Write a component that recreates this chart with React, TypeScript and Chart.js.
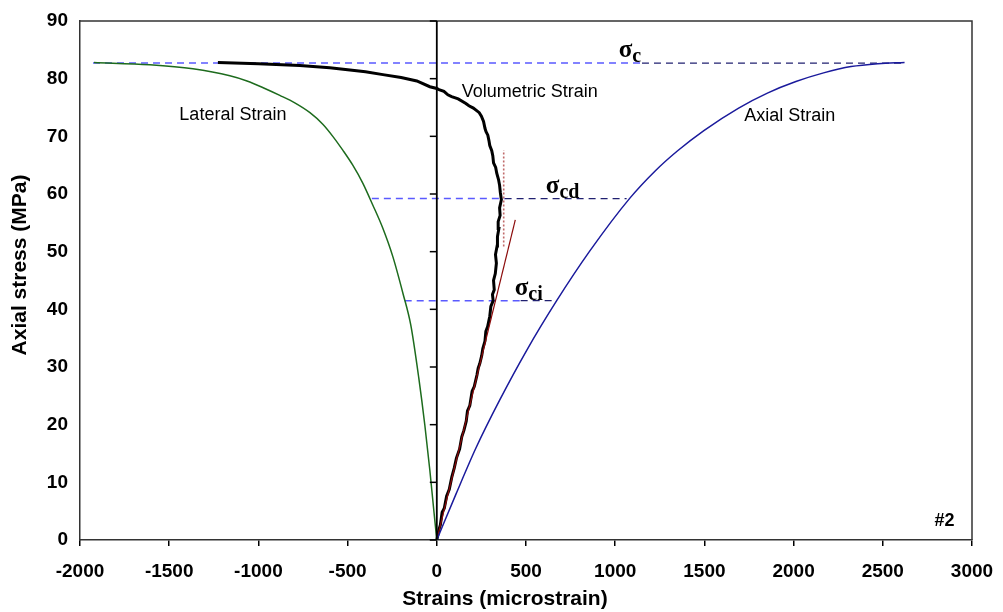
import React, { useEffect, useRef } from "react";
import { Chart, registerables } from "chart.js";

Chart.register(...registerables);

// ---- Axis ticks ----
const xTickValues = [-2000, -1500, -1000, -500, 0, 500, 1000, 1500, 2000, 2500, 3000];
const yTickValues = [0, 10, 20, 30, 40, 50, 60, 70, 80, 90];

// ---- Lateral strain (green) ----
const lateralX = [-1922, -1608, -1367, -1160, -1064, -964, -880, -796, -711, -639, -583, -527, -471, -415, -359, -303, -246, -190, -146, -101, -67, -39, -17, 0];
const lateralY = [82.8, 82.4, 81.7, 80.5, 79.6, 78.3, 77.1, 75.8, 74.1, 72.1, 70.0, 67.6, 65.0, 61.9, 58.1, 54.1, 49.1, 42.8, 37.3, 28.1, 19.9, 12.1, 5.2, 0];

// ---- Axial strain (navy) ----
const axialX = [0, 108, 220, 353, 504, 672, 855, 1080, 1224, 1350, 1497, 1692, 1853, 2013, 2168, 2322, 2472, 2622];
const axialY = [0, 8.0, 16.0, 24.3, 32.9, 41.5, 50.0, 59.2, 64.0, 67.5, 71.0, 74.9, 77.5, 79.5, 81.0, 82.1, 82.6, 82.8];

// ---- Volumetric strain (black, jagged) ----
const volX = [0, 12, 20, 30, 42, 55, 70, 84, 98, 110, 128, 140, 152, 165, 172, 185, 198, 210, 225, 232, 241, 252, 258, 270, 275, 285, 297, 303, 316, 312, 322, 318, 328, 334, 329, 338, 340, 348, 344, 355, 352, 362, 356, 352, 346, 336, 330, 318, 314, 308, 297, 292, 286, 276, 270, 262, 250, 238, 205, 180, 163, 120, 83, 62, 40, 12, 0, -39, -112, -200, -302, -400, -487, -600, -768, -1000, -1227];
const volY = [0, 1.8, 2.6, 4.8, 5.5, 7.6, 8.8, 10.9, 12.5, 14.2, 15.8, 17.9, 19.0, 20.6, 22.4, 23.3, 25.8, 26.6, 28.6, 29.8, 30.6, 32.0, 33.2, 34.5, 36.2, 37.0, 38.8, 40.5, 41.5, 42.6, 43.4, 45.0, 46.2, 48.0, 49.5, 51.0, 52.6, 54.0, 55.2, 56.3, 57.6, 59.0, 60.3, 61.5, 62.5, 63.6, 64.6, 65.4, 66.6, 67.5, 68.4, 69.3, 70.2, 70.8, 71.4, 72.6, 73.5, 74.1, 74.9, 75.3, 75.7, 76.5, 76.9, 77.2, 77.8, 78.1, 78.3, 78.6, 79.6, 80.2, 80.7, 81.2, 81.5, 81.9, 82.3, 82.6, 82.8];

// ---- Linear fit (red) and its vertical guide ----
const tangentX = [0, 440];
const tangentY = [0, 55.5];
const guideX = [375, 375];
const guideY = [50.9, 67.6];

// ---- Stress thresholds ----
const sigmaC = 82.7;
const sigmaCd = 59.2;
const sigmaCi = 41.5;
const sigmaCLight = [-1927, 1150];
const sigmaCDark = [1150, 2622];
const sigmaCdLight = [-364, 380];
const sigmaCdDark = [380, 1064];
const sigmaCiLight = [-180, 470];
const sigmaCiDark = [470, 661];

// ---- Text labels (data coordinates) ----
const curveLabels = ["Lateral Strain", "Volumetric Strain", "Axial Strain"];
const curveLabelX = [-1143, 521, 1978];
const curveLabelY = [73.7, 77.7, 73.5];
const sigmaSubs = ["c", "cd", "ci"];
const sigmaLabelX = [1020, 611, 437];
const sigmaLabelY = [83.8, 60.2, 42.5];
const specimenLabel = "#2";
const specimenX = 2846;
const specimenY = 3.3;

const xTitle = "Strains (microstrain)";
const yTitle = "Axial stress (MPa)";

const SANS = '"Liberation Sans", Arial, sans-serif';
const SERIF = '"Liberation Serif", "Times New Roman", serif';

const pts = (xs: number[], ys: number[]) => xs.map((x, i) => ({ x, y: ys[i] }));
const hline = (xs: number[], y: number) => xs.map((x) => ({ x, y }));

export default function App() {
  const ref = useRef<HTMLCanvasElement>(null);

  useEffect(() => {
    document.body.style.margin = "0";
    const canvas = ref.current;
    if (!canvas) return;

    const lightDash = "#5a5aff";
    const darkDash = "#202070";

    const decor = {
      id: "decor",
      afterDatasetsDraw(chart: any) {
        const { ctx, chartArea, scales } = chart;
        const xs = scales.x;
        const ys = scales.y;
        ctx.save();
        // top & right box edges
        ctx.strokeStyle = "#333";
        ctx.lineWidth = 1.5;
        ctx.beginPath();
        ctx.moveTo(chartArea.left, chartArea.top);
        ctx.lineTo(chartArea.right, chartArea.top);
        ctx.lineTo(chartArea.right, chartArea.bottom);
        ctx.stroke();
        // vertical axis at x = 0 with tick marks
        const x0 = xs.getPixelForValue(0);
        ctx.strokeStyle = "#000";
        ctx.lineWidth = 1.8;
        ctx.beginPath();
        ctx.moveTo(x0, chartArea.top);
        ctx.lineTo(x0, chartArea.bottom);
        ctx.stroke();
        ctx.lineWidth = 1.5;
        yTickValues.forEach((v) => {
          const py = ys.getPixelForValue(v);
          ctx.beginPath();
          ctx.moveTo(x0 - 7, py);
          ctx.lineTo(x0, py);
          ctx.stroke();
        });

        // curve labels
        ctx.fillStyle = "#000";
        ctx.textAlign = "center";
        ctx.textBaseline = "middle";
        ctx.font = `18px ${SANS}`;
        curveLabels.forEach((t, i) => {
          ctx.fillText(t, xs.getPixelForValue(curveLabelX[i]), ys.getPixelForValue(curveLabelY[i]));
        });
        ctx.font = `bold 18px ${SANS}`;
        ctx.fillText(specimenLabel, xs.getPixelForValue(specimenX), ys.getPixelForValue(specimenY));

        // sigma labels
        ctx.textAlign = "left";
        ctx.textBaseline = "alphabetic";
        sigmaSubs.forEach((s, i) => {
          const px = xs.getPixelForValue(sigmaLabelX[i]);
          const py = ys.getPixelForValue(sigmaLabelY[i]);
          ctx.font = `bold 25px ${SERIF}`;
          ctx.fillText("σ", px, py);
          const w = ctx.measureText("σ").width;
          ctx.font = `bold 20px ${SERIF}`;
          ctx.fillText(s, px + w, py + 5);
        });

        // axis titles
        ctx.font = `bold 21px ${SANS}`;
        ctx.textAlign = "center";
        ctx.textBaseline = "middle";
        ctx.fillText(xTitle, 505, 599);
        ctx.translate(20, 265);
        ctx.rotate(-Math.PI / 2);
        ctx.fillText(yTitle, 0, 0);
        ctx.restore();
      },
    };

    const line = (data: any[], color: string, width: number, dash: number[] = [], smooth = false) => ({
      data,
      showLine: true,
      borderColor: color,
      backgroundColor: color,
      borderWidth: width,
      borderDash: dash,
      pointRadius: 0,
      pointHoverRadius: 0,
      tension: 0,
      cubicInterpolationMode: smooth ? "monotone" : "default",
      fill: false,
    });

    const chart = new Chart(canvas, {
      type: "scatter",
      data: {
        datasets: [
          line(pts(lateralX, lateralY), "#1d6b1d", 1.5, [], true),
          line(pts(axialX, axialY), "#1a1a9c", 1.5, [], true),
          line(pts(tangentX, tangentY), "#8b0a0a", 1.2),
          line(pts(guideX, guideY), "#c06a6a", 1.6, [2, 2]),
          line(pts(volX, volY), "#000", 3),
          line(hline(sigmaCLight, sigmaC), lightDash, 1.5, [7, 5]),
          line(hline(sigmaCDark, sigmaC), darkDash, 1.2, [7, 5]),
          line(hline(sigmaCdLight, sigmaCd), lightDash, 1.5, [7, 5]),
          line(hline(sigmaCdDark, sigmaCd), darkDash, 1.2, [7, 5]),
          line(hline(sigmaCiLight, sigmaCi), lightDash, 1.5, [7, 5]),
          line(hline(sigmaCiDark, sigmaCi), darkDash, 1.2, [7, 5]),
        ] as any,
      },
      options: {
        responsive: false,
        animation: false,
        devicePixelRatio: 1,
        layout: { padding: { top: 21, right: 31, left: 0, bottom: 0 } },
        plugins: { legend: { display: false }, tooltip: { enabled: false } },
        events: [],
        scales: {
          x: {
            type: "linear",
            min: -2000,
            max: 3000,
            afterBuildTicks: (s: any) => {
              s.ticks = xTickValues.map((v) => ({ value: v }));
            },
            afterFit: (s: any) => {
              s.height = 72;
              s.paddingLeft = 0;
              s.paddingRight = 0;
              s.paddingTop = 0;
              s.paddingBottom = 0;
            },
            ticks: {
              color: "#000",
              font: { family: SANS, size: 19, weight: "bold" },
              padding: 14,
              maxRotation: 0,
              autoSkip: false,
              callback: (v: any) => String(v),
            },
            grid: {
              display: true,
              drawOnChartArea: false,
              drawTicks: true,
              tickLength: 6,
              color: "#000",
              lineWidth: 1.5,
            },
            border: { display: true, color: "#333", width: 1.5 },
          },
          y: {
            type: "linear",
            min: 0,
            max: 90,
            afterBuildTicks: (s: any) => {
              s.ticks = yTickValues.map((v) => ({ value: v }));
            },
            afterFit: (s: any) => {
              s.width = 80;
              s.paddingLeft = 0;
              s.paddingRight = 0;
              s.paddingTop = 0;
              s.paddingBottom = 0;
            },
            ticks: {
              color: "#000",
              font: { family: SANS, size: 19, weight: "bold" },
              padding: 12,
              autoSkip: false,
              callback: (v: any) => String(v),
            },
            grid: { display: false, drawTicks: false },
            border: { display: true, color: "#333", width: 1.5 },
          },
        },
      } as any,
      plugins: [decor],
    });

    return () => chart.destroy();
  }, []);

  return (
    <div style={{ position: "absolute", left: 0, top: 0, width: 1003, height: 612, background: "#fff" }}>
      <canvas ref={ref} width={1003} height={612} style={{ display: "block", width: 1003, height: 612 }} />
    </div>
  );
}
